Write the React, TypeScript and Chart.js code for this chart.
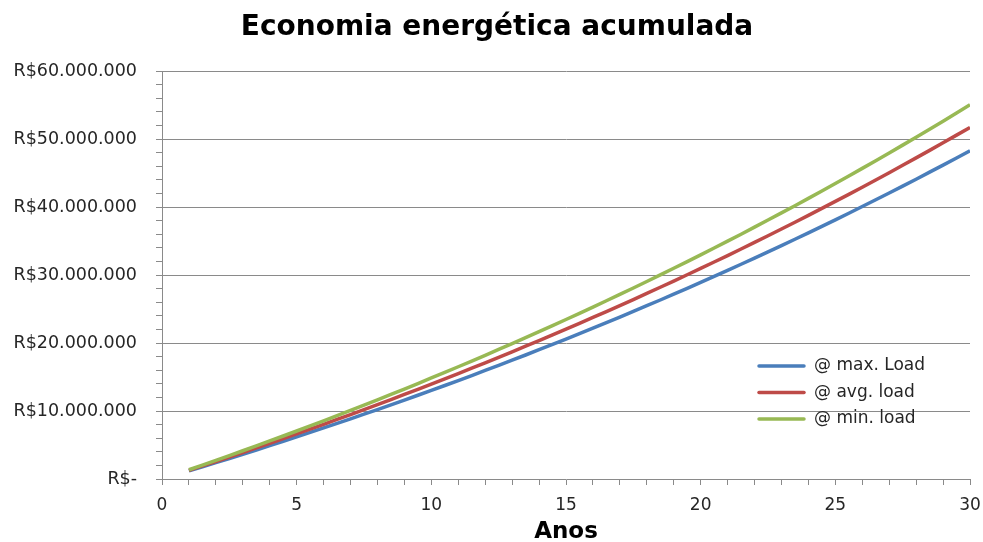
import React, { useEffect, useRef } from "react";
import { Chart, registerables } from "chart.js";

Chart.register(...registerables);

const years = [1, 2, 3, 4, 5, 6, 7, 8, 9, 10, 11, 12, 13, 14, 15, 16, 17, 18, 19, 20, 21, 22, 23, 24, 25, 26, 27, 28, 29, 30];

const maxLoad = [
  1190000, 2404000, 3642000, 4905000, 6193000, 7507000, 8847000, 10214000, 11608000, 13030000,
  14480000, 15960000, 17469000, 19009000, 20579000, 22180000, 23814000, 25480000, 27180000, 28914000,
  30682000, 32486000, 34325000, 36202000, 38116000, 40068000, 42059000, 44091000, 46163000, 48276000,
];

const avgLoad = [
  1274000, 2575000, 3901000, 5253000, 6633000, 8040000, 9475000, 10939000, 12432000, 13955000,
  15508000, 17093000, 18709000, 20359000, 22040000, 23755000, 25505000, 27289000, 29110000, 30967000,
  32860000, 34793000, 36762000, 38772000, 40822000, 42913000, 45045000, 47221000, 49441000, 51704000,
];

const minLoad = [
  1357000, 2741000, 4152000, 5592000, 7060000, 8558000, 10086000, 11644000, 13233000, 14854000,
  16507000, 18194000, 19915000, 21670000, 23460000, 25285000, 27148000, 29047000, 30985000, 32962000,
  34977000, 37034000, 39131000, 41270000, 43452000, 45678000, 47947000, 50264000, 52626000, 55035000,
];

const seriesLabels = ["@ max. Load", "@ avg. load", "@ min. load"];
const seriesColors = ["#4A7EBB", "#BE4B48", "#98B954"];

const chartTitle = "Economia energética acumulada";
const xAxisTitle = "Anos";

const FONT = "'DejaVu Sans', sans-serif";
const GRID = "#8a8a8a";
const TEXT = "#262626";

function formatReal(v: number): string {
  if (v === 0) return "R$-";
  return "R$" + Math.round(v).toString().replace(/\B(?=(\d{3})+(?!\d))/g, ".");
}

const overlayPlugin = {
  id: "overlay",
  afterDraw(chart: any) {
    const ctx = chart.ctx;
    const area = chart.chartArea;
    ctx.save();
    // Title
    ctx.fillStyle = "#000";
    ctx.font = `bold 28px ${FONT}`;
    ctx.textAlign = "center";
    ctx.textBaseline = "alphabetic";
    ctx.fillText(chartTitle, 497, 35);
    // X axis title
    ctx.font = `bold 23px ${FONT}`;
    ctx.fillText(xAxisTitle, (area.left + area.right) / 2, 538);
    // Legend
    const rows = [366, 392.5, 419];
    chart.data.datasets.forEach((ds: any, i: number) => {
      const y = rows[i];
      ctx.strokeStyle = ds.borderColor;
      ctx.lineWidth = 3.5;
      ctx.lineCap = "round";
      ctx.beginPath();
      ctx.moveTo(759, y);
      ctx.lineTo(804, y);
      ctx.stroke();
      ctx.fillStyle = TEXT;
      ctx.font = `17px ${FONT}`;
      ctx.textAlign = "left";
      ctx.textBaseline = "middle";
      ctx.fillText(ds.label, 814, y);
    });
    ctx.restore();
  },
};

export default function App() {
  const ref = useRef<HTMLCanvasElement | null>(null);

  useEffect(() => {
    if (!ref.current) return;
    const series = [maxLoad, avgLoad, minLoad];
    const chart = new Chart(ref.current, {
      type: "line",
      data: {
        datasets: series.map((vals, i) => ({
          label: seriesLabels[i],
          data: years.map((x, j) => ({ x, y: vals[j] })),
          borderColor: seriesColors[i],
          backgroundColor: seriesColors[i],
          borderWidth: 3.5,
          pointRadius: 0,
          tension: 0.4,
          fill: false,
          order: 3 - i,
        })),
      },
      options: {
        animation: false,
        responsive: false,
        maintainAspectRatio: false,
        layout: { padding: { top: 71, right: 13, left: 0, bottom: 0 } },
        plugins: {
          legend: { display: false },
          title: { display: false },
          tooltip: { enabled: false },
        },
        scales: {
          x: {
            type: "linear",
            min: 0,
            max: 30,
            afterFit: (scale: any) => {
              scale.height = 63;
              scale.paddingLeft = 0;
              scale.paddingRight = 0;
            },
            border: { color: GRID, width: 1 },
            grid: {
              drawOnChartArea: false,
              drawTicks: true,
              tickLength: 6,
              tickColor: GRID,
            },
            ticks: {
              stepSize: 1,
              autoSkip: false,
              maxRotation: 0,
              padding: 10,
              color: TEXT,
              font: { family: FONT, size: 17 },
              callback: (v: any) => (Number(v) % 5 === 0 ? String(v) : ""),
            },
          },
          y: {
            type: "linear",
            min: 0,
            max: 60000000,
            afterFit: (scale: any) => {
              scale.width = 162;
              scale.paddingTop = 0;
              scale.paddingBottom = 0;
            },
            border: { color: GRID, width: 1 },
            grid: {
              drawOnChartArea: true,
              drawTicks: true,
              tickLength: 6,
              tickColor: GRID,
              color: (c: any) =>
                c.tick && c.tick.value % 10000000 === 0 && c.tick.value !== 0 ? GRID : "transparent",
            },
            ticks: {
              stepSize: 2000000,
              autoSkip: false,
              padding: 19,
              color: TEXT,
              font: { family: FONT, size: 17.5 },
              callback: (v: any) => (Number(v) % 10000000 === 0 ? formatReal(Number(v)) : ""),
            },
          },
        },
      },
      plugins: [overlayPlugin],
    });
    return () => chart.destroy();
  }, []);

  return (
    <div style={{ position: "absolute", left: 0, top: 0, width: 983, height: 542, background: "#fff" }}>
      <canvas ref={ref} width={983} height={542} />
    </div>
  );
}
